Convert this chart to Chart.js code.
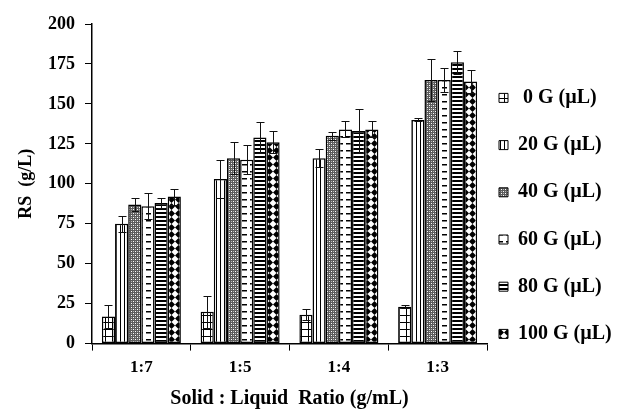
<!DOCTYPE html>
<html>
<head>
<meta charset="utf-8">
<script src="https://cdn.jsdelivr.net/npm/chart.js@4"></script>
<style>
  body { margin: 0; background: #fff; }
  #wrap { width: 617px; height: 409px; }
</style>
</head>
<body>
<div id="wrap"><canvas id="rsChart" width="617" height="409"></canvas></div>
<script>
var ratioLabels = ["1:7", "1:5", "1:4", "1:3"];
var seriesNames = [" 0 G (\u00b5L)", "20 G (\u00b5L)", "40 G (\u00b5L)", "60 G (\u00b5L)", "80 G (\u00b5L)", "100 G (\u00b5L)"];

// RS (g/L) per ratio, and +/- error
var rs0 = [17, 20, 18, 23];
var rs20 = [75, 103, 116, 140];
var rs40 = [87, 116, 130, 165];
var rs60 = [86, 115, 134, 165];
var rs80 = [88, 129, 133, 176];
var rs100 = [92, 126, 134, 164];

var err0 = [7, 10, 3.5, 1];
var err20 = [5, 12, 5.5, 1];
var err40 = [4, 10, 2.5, 13];
var err60 = [8, 9, 5, 7.5];
var err80 = [3, 9.5, 14, 7];
var err100 = [5, 7, 5, 7];

var yTicks = [0, 25, 50, 75, 100, 125, 150, 175, 200];

var SERIF = "'Liberation Serif', 'Times New Roman', serif";

var ctx = document.getElementById("rsChart").getContext("2d");

// small fill patterns, like the old excel hatches
function makePattern(w, h, draw) {
    var c = document.createElement("canvas");
    c.width = w;
    c.height = h;
    var g = c.getContext("2d");
    g.fillStyle = "#fff";
    g.fillRect(0, 0, w, h);
    g.fillStyle = "#000";
    draw(g);
    return ctx.createPattern(c, "repeat");
}

var patGrid = makePattern(7, 7, function (g) {
    g.fillRect(0, 0, 7, 1);
    g.fillRect(0, 0, 1, 7);
});
var patVert = makePattern(4, 1, function (g) {
    g.fillRect(0, 0, 1, 1);
});
var patGrey = makePattern(4, 4, function (g) {
    g.fillStyle = "#5c5c5c";
    g.fillRect(0, 0, 4, 4);
    g.fillStyle = "#fff";
    g.fillRect(1, 1, 1, 1);
    g.fillRect(3, 3, 1, 1);
    g.fillStyle = "#b8b8b8";
    g.fillRect(3, 1, 1, 1);
    g.fillRect(1, 3, 1, 1);
});
var patDash = makePattern(8, 7, function (g) {
    g.fillRect(2, 3, 5, 1.5);
});
var patStripe = makePattern(1, 4, function (g) {
    g.fillRect(0, 0, 1, 2);
});
var patDiamond = makePattern(7, 7, function (g) {
    g.beginPath();
    g.moveTo(3.5, 0);
    g.lineTo(7, 3.5);
    g.lineTo(3.5, 7);
    g.lineTo(0, 3.5);
    g.closePath();
    g.fill();
});

function series(name, values, errors, fill) {
    return {
        label: name,
        data: values,
        errors: errors,
        backgroundColor: fill,
        borderColor: "#000",
        borderWidth: 1.5,
        borderSkipped: false,
        categoryPercentage: 0.8,
        barPercentage: 1.0
    };
}

// draws the +/- error bars on top of every bar
var errorBars = {
    id: "errorBars",
    afterDatasetsDraw: function (chart) {
        var c = chart.ctx;
        var y = chart.scales.y;
        c.save();
        c.strokeStyle = "#111";
        c.lineWidth = 1;
        chart.data.datasets.forEach(function (ds, i) {
            chart.getDatasetMeta(i).data.forEach(function (bar, j) {
                var v = ds.data[j];
                var e = ds.errors[j];
                var top = Math.round(y.getPixelForValue(v + e)) + 0.5;
                var bot = Math.round(y.getPixelForValue(v - e)) + 0.5;
                var x = Math.round(bar.x) + 0.5;
                c.beginPath();
                c.moveTo(x, top);
                c.lineTo(x, bot);
                c.moveTo(x - 4, top);
                c.lineTo(x + 4, top);
                c.moveTo(x - 4, bot);
                c.lineTo(x + 4, bot);
                c.stroke();
            });
        });
        c.restore();
    }
};

new Chart(ctx, {
    type: "bar",
    data: {
        labels: ratioLabels,
        datasets: [
            series(seriesNames[0], rs0, err0, patGrid),
            series(seriesNames[1], rs20, err20, patVert),
            series(seriesNames[2], rs40, err40, patGrey),
            series(seriesNames[3], rs60, err60, patDash),
            series(seriesNames[4], rs80, err80, patStripe),
            series(seriesNames[5], rs100, err100, patDiamond)
        ]
    },
    options: {
        responsive: false,
        animation: false,
        devicePixelRatio: 1,
        layout: { padding: { top: 24, left: 0, right: 0, bottom: 0 } },
        plugins: {
            tooltip: { enabled: false },
            legend: {
                position: "right",
                maxWidth: 130,
                title: { display: true, text: " ", font: { size: 14, lineHeight: 1 }, padding: 0 },
                labels: {
                    color: "#000",
                    boxWidth: 9,
                    boxHeight: 9,
                    padding: 12,
                    font: { family: SERIF, size: 20, weight: "bold", lineHeight: 1.76 },
                    generateLabels: function (chart) {
                        var items = Chart.defaults.plugins.legend.labels.generateLabels(chart);
                        items.forEach(function (it) { it.text = [it.text]; it.lineWidth = 1; });
                        return items;
                    }
                }
            }
        },
        scales: {
            x: {
                border: { display: true, color: "#000", width: 1.5 },
                grid: { display: true, drawOnChartArea: false, drawTicks: true, tickLength: 7, color: "#000", offset: true },
                ticks: { color: "#000", padding: 7, font: { family: SERIF, size: 17, weight: "bold" } },
                title: {
                    display: true,
                    text: "Solid : Liquid  Ratio (g/mL)",
                    color: "#000",
                    font: { family: SERIF, size: 20, weight: "bold", lineHeight: 1 },
                    padding: { top: 4, bottom: 0 }
                }
            },
            y: {
                min: 0,
                max: 200,
                afterBuildTicks: function (scale) {
                    scale.ticks = yTicks.map(function (v) { return { value: v }; });
                },
                border: { display: true, color: "#000", width: 1.5 },
                grid: { display: true, drawOnChartArea: false, drawTicks: true, tickLength: 7, color: "#000" },
                ticks: { color: "#000", padding: 10, font: { family: SERIF, size: 18, weight: "bold" } },
                title: {
                    display: true,
                    text: "RS  (g/L)",
                    color: "#000",
                    font: { family: SERIF, size: 18, weight: "bold", lineHeight: 1 },
                    padding: { top: 17, bottom: 3 }
                }
            }
        }
    },
    plugins: [errorBars]
});
</script>
</body>
</html>
